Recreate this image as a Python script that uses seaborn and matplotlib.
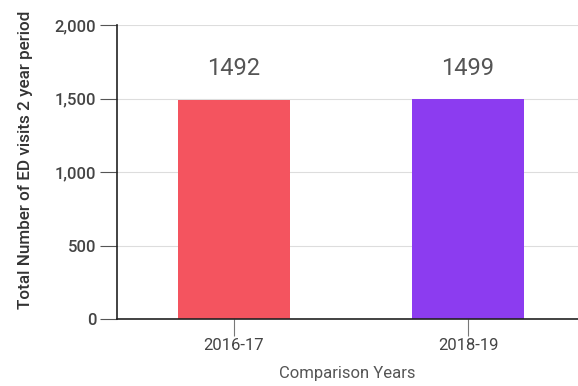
import matplotlib
matplotlib.use("Agg")
import matplotlib.pyplot as plt
import seaborn as sns
import pandas as pd
from matplotlib.ticker import FuncFormatter

categories = ["2016-17", "2018-19"]
visits = [1492, 1499]
bar_colors = ["#F4545F", "#8C3CF0"]
y_ticks = [0, 500, 1000, 1500, 2000]

df = pd.DataFrame({"period": categories, "visits": visits})

sns.set_theme(style="white")
plt.rcParams["font.family"] = ["Roboto", "DejaVu Sans"]

fig = plt.figure(figsize=(5.78, 3.86), dpi=100)
ax = fig.add_axes([0.2024, 0.1736, 0.7976, 0.7614])

sns.barplot(data=df, x="period", y="visits", hue="period",
            palette=bar_colors, width=0.48, legend=False, ax=ax,
            saturation=1, edgecolor="none")

ax.set_ylim(0, 2000)
ax.set_xlim(-0.5, 1.47)
ax.set_yticks(y_ticks)
ax.yaxis.set_major_formatter(FuncFormatter(lambda v, p: f"{int(v):,}"))
ax.grid(axis="y", color="#dddddd", linewidth=0.8)
ax.set_axisbelow(True)

for s in ["top", "right"]:
    ax.spines[s].set_visible(False)
for s in ["left", "bottom"]:
    ax.spines[s].set_color("#222222")
    ax.spines[s].set_linewidth(1.2)

ax.tick_params(axis="y", length=12, width=0.8, color="#555555",
               labelsize=12, labelcolor="#444444", pad=3, left=True)
ax.tick_params(axis="x", length=12, width=0.8, color="#777777",
               labelsize=12, labelcolor="#444444", pad=2, bottom=True)
for lbl in ax.get_yticklabels():
    lbl.set_fontweight("medium")

ax.set_ylabel("Total Number of ED visits 2 year period", fontsize=12.3,
              color="#333333", fontweight="medium")
ax.yaxis.set_label_coords(-0.182, 0.54)
ax.set_xlabel("Comparison Years", fontsize=12, color="#555555", labelpad=9)

for i, v in enumerate(visits):
    ax.text(i, 1705, str(v), ha="center", va="center", fontsize=17,
            color="#555555")

fig.savefig("out.png", dpi=100)
